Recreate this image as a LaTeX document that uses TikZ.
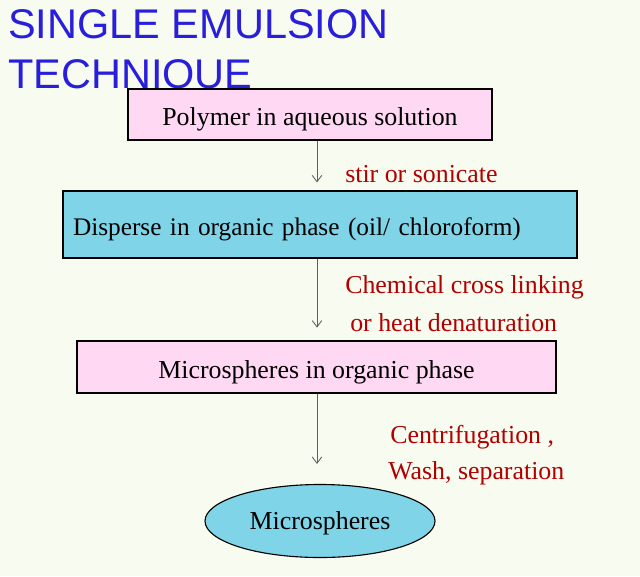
\documentclass[tikz,border=0pt]{standalone}
\usepackage{fontspec}
\setmainfont{Liberation Serif}
\newfontfamily\titlefont{Liberation Sans}
\usepackage{tikz}
\usetikzlibrary{shapes.geometric, arrows.meta, positioning, calc}

\definecolor{bgcol}{RGB}{248,251,240}
\definecolor{pinkbox}{RGB}{255,216,244}
\definecolor{bluebox}{RGB}{128,212,232}
\definecolor{titleblue}{RGB}{40,30,220}
\definecolor{labelred}{RGB}{178,0,0}
\definecolor{arrowgray}{RGB}{95,95,95}

\begin{document}
\begin{tikzpicture}[
    >={Straight Barb[length=1.6mm,width=2.4mm]},
    every node/.style={font=\fontsize{18.4}{21}\selectfont},
    stepbox/.style={draw=black, line width=0.8pt, inner sep=0pt,
                    text height=0.62cm, text depth=0.06cm},
    flow/.style={->, draw=arrowgray, line width=0.6pt},
    note/.style={anchor=west, inner sep=0pt, text=labelred}
]

% Background
\fill[bgcol] (0,0) rectangle (16,-14.4);
\useasboundingbox (0,0) rectangle (16,-14.4);

% Title
\node[anchor=base west, inner sep=0pt, text=titleblue, font=\titlefont\fontsize{29.5}{34}\selectfont]
    (title) at (0.2,-0.95) {SINGLE EMULSION};
\node[anchor=base west, inner sep=0pt, text=titleblue, font=\titlefont\fontsize{29.5}{34}\selectfont]
    (titleb) at (0.2,-2.2) {TECHNIQUE};

% Steps
\node[stepbox, fill=pinkbox, minimum width=9.1cm, minimum height=1.275cm]
    (polymer) at (7.75,-2.8625) {Polymer in aqueous solution};
\node[stepbox, fill=bluebox, minimum width=12.85cm, minimum height=1.675cm,
      text width=12.35cm, inner xsep=0.25cm, align=left, font=\fontsize{18}{21}\selectfont]
    (disperse) at (8.0,-5.6125) {Disperse in organic phase (oil/ chloroform)};
\node[stepbox, fill=pinkbox, minimum width=11.975cm, minimum height=1.3cm]
    (organic) at (7.9125,-9.175) {Microspheres in organic phase};
\node[stepbox, ellipse, fill=bluebox, minimum width=5.75cm, minimum height=1.825cm,
      text height=0.5cm]
    (micro) at (8.0,-13.025) {Microspheres};

% Arrows
\coordinate (ax) at (7.925,0);
\draw[flow, shorten >=0.2cm] (polymer.south -| ax) -- (disperse.north -| ax);
\draw[flow, shorten >=0.32cm] (disperse.south -| ax) -- (organic.north -| ax);
\draw[flow, shorten >=0.5cm] (organic.south -| ax) -- (micro.north -| ax);

% Labels
\node[note] (stir) at (8.625,-4.35) {stir or sonicate};
\node[note] (chem) at (8.625,-7.18) {Chemical cross linking};
\node[note] (heat) at (8.75,-8.075) {or heat denaturation};
\node[note] (centri) at (9.75,-10.925) {Centrifugation ,};
\node[note] (wash) at (9.7,-11.825) {Wash, separation};

\end{tikzpicture}
\end{document}
